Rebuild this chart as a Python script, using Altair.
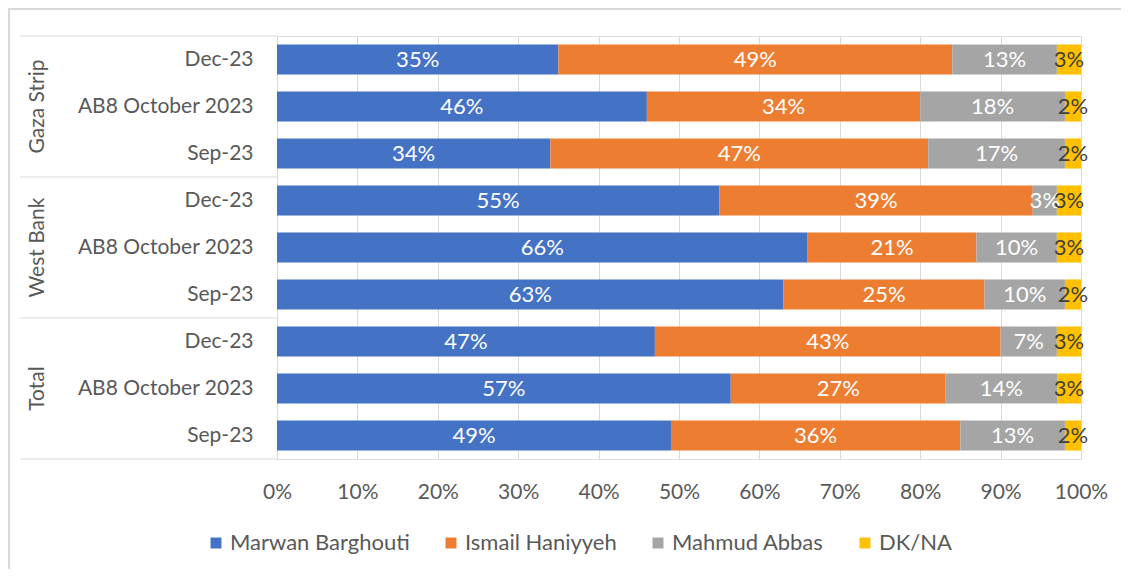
import altair as alt
import pandas as pd

# ---- data ----
groups = ["Gaza Strip"] * 3 + ["West Bank"] * 3 + ["Total"] * 3
waves = ["Dec-23", "AB8 October 2023", "Sep-23"] * 3
series_names = ["Marwan Barghouti", "Ismail Haniyyeh", "Mahmud Abbas", "DK/NA"]
series_colors = ["#4472C4", "#ED7D31", "#A5A5A5", "#FFC000"]
marwan = [35, 46, 34, 55, 66, 63, 47, 57, 49]
haniyyeh = [49, 34, 47, 39, 21, 25, 43, 27, 36]
abbas = [13, 18, 17, 3, 10, 10, 7, 14, 13]
dkna = [3, 2, 2, 3, 3, 2, 3, 3, 2]
x_ticks = [0, 0.1, 0.2, 0.3, 0.4, 0.5, 0.6, 0.7, 0.8, 0.9, 1.0]

keys = [f"{g}|{w}" for g, w in zip(groups, waves)]
rows = []
for i, k in enumerate(keys):
    for j, (s, vals) in enumerate(zip(series_names, [marwan, haniyyeh, abbas, dkna])):
        rows.append(dict(key=k, group=groups[i], series=s, order=j, value=vals[i]))
df = pd.DataFrame(rows)

group_names = ["Gaza Strip", "West Bank", "Total"]
group_df = pd.DataFrame({"key": [keys[1], keys[4], keys[7]], "group": group_names})
sep_top_df = pd.DataFrame({"key": [keys[0], keys[3], keys[6]]})
sep_bot_df = pd.DataFrame({"key": [keys[8]]})

FONT = "Lato"
FS = 21
GREY_TXT = "#595959"
LINE = "#d9d9d9"
W, H = 804, 423
STEP = H / 9

y_scale = alt.Scale(domain=keys, paddingInner=0.36, paddingOuter=0.18)

base = alt.Chart(df).transform_stack(
    stack="value", groupby=["key"], as_=["v0", "v1"], offset="normalize",
    sort=[alt.SortField("order", "ascending")]
).transform_calculate(
    mid="(datum.v0 + datum.v1) / 2", label="datum.value + '%'"
)

bars = base.mark_bar().encode(
    y=alt.Y("key:N", scale=y_scale, axis=alt.Axis(
        title=None, labelExpr="split(datum.label, '|')[1]", ticks=False,
        domain=True, domainColor=LINE, domainWidth=1, labelPadding=24,
        labelFont=FONT, labelFontSize=FS, labelColor=GREY_TXT, labelLimit=400)),
    x=alt.X("v0:Q", scale=alt.Scale(domain=[0, 1], nice=False), axis=alt.Axis(
        title=None, format=".0%", values=x_ticks, grid=True, gridColor=LINE,
        domain=False, ticks=False, labelPadding=22, labelFont=FONT,
        labelFontSize=FS, labelColor=GREY_TXT, labelFlush=False, labelOverlap=False)),
    x2="v1:Q",
    color=alt.Color("series:N", scale=alt.Scale(domain=series_names, range=series_colors),
                    legend=alt.Legend(
                        orient="none", legendX=-72, legendY=496, direction="horizontal",
                        title=None, symbolType="square", symbolSize=120,
                        symbolStrokeWidth=0, labelFont=FONT, labelFontSize=22,
                        labelColor=GREY_TXT, columnPadding=30, labelOffset=3,
                        padding=0, labelLimit=400)),
)

texts = base.mark_text(font=FONT, fontSize=22).encode(
    y="key:N",
    x="mid:Q",
    text="label:N",
    color=alt.condition("datum.series == 'DK/NA'", alt.value("#404040"), alt.value("white")),
)

group_labels = alt.Chart(group_df).mark_text(
    font=FONT, fontSize=FS, color=GREY_TXT, angle=270, align="center", baseline="middle"
).encode(y="key:N", x=alt.value(-239), text="group:N")

sep_top = alt.Chart(sep_top_df).mark_rule(color=LINE, strokeWidth=1, yOffset=-STEP / 2).encode(
    y="key:N", x=alt.value(-257), x2=alt.value(0))
sep_bot = alt.Chart(sep_bot_df).mark_rule(color=LINE, strokeWidth=1, yOffset=STEP / 2).encode(
    y="key:N", x=alt.value(-257), x2=alt.value(0))

frame_df = pd.DataFrame({"a": [0]})
frame_top = alt.Chart(frame_df).mark_rule(color=LINE, strokeWidth=2).encode(
    x=alt.value(-269), x2=alt.value(844), y=alt.value(-27))
frame_left = alt.Chart(frame_df).mark_rule(color=LINE, strokeWidth=2).encode(
    x=alt.value(-268), y=alt.value(-28), y2=alt.value(533))

chart = alt.layer(frame_top, frame_left, bars, texts, group_labels, sep_top, sep_bot).properties(
    width=W, height=H,
    autosize=alt.AutoSizeParams(type="none"),
    padding={"left": 269, "top": 28, "right": 40, "bottom": 110},
).configure_view(stroke=None).configure(background="white")

chart.save("out.html", embed_options={"renderer": "svg", "actions": False})
